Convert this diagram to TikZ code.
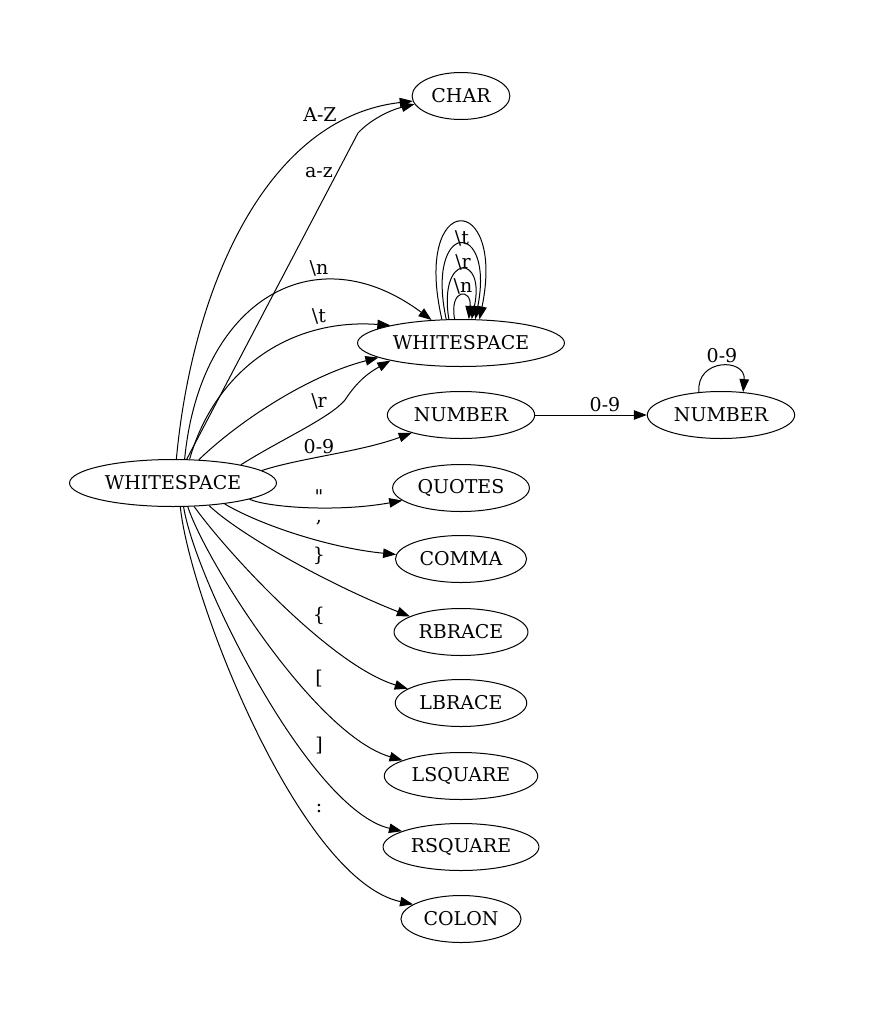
\documentclass[tikz,border=0pt]{standalone}
\usepackage{fontspec}
\setmainfont{DejaVu Serif}[Ligatures=TeXOff]
\usetikzlibrary{arrows.meta,shapes.geometric}

\begin{document}
\begin{tikzpicture}[x=1pt, y=-1pt,
  lexstate/.style={ellipse, draw, line width=1pt, inner xsep=5pt, inner ysep=4pt, minimum height=47pt, font=\fontsize{19}{22}\selectfont},
  trans/.style={-{Triangle[length=13pt, width=9.5pt]}, line width=1pt},
  lbl/.style={font=\fontsize{19}{22}\selectfont, inner sep=0pt}
]
  \useasboundingbox (0,0) rectangle (868,1017);

  % token states
  \node[lexstate] (ws) at (173,483) {WHITESPACE};
  \node[lexstate] (char) at (461,96) {CHAR};
  \node[lexstate] (wsb) at (461,343) {WHITESPACE};
  \node[lexstate] (num) at (461,415) {NUMBER};
  \node[lexstate] (numb) at (721,415) {NUMBER};
  \node[lexstate] (quotes) at (461,488) {QUOTES};
  \node[lexstate] (comma) at (461,559) {COMMA};
  \node[lexstate] (rbrace) at (461,632) {RBRACE};
  \node[lexstate] (lbrace) at (461,703) {LBRACE};
  \node[lexstate] (lsquare) at (461,776) {LSQUARE};
  \node[lexstate] (rsquare) at (461,847) {RSQUARE};
  \node[lexstate] (colon) at (461,919) {COLON};

  % transitions out of the first state
  \draw[trans] (ws.82) .. controls (192,290) and (265,118) .. (char.186);
  \draw[trans] (ws.60) -- (358,133) .. controls (370,120) and (390,110) .. (char.190);
  \draw[trans] (ws.64) .. controls (200,300) and (315,233) .. (wsb.142);
  \draw[trans] (ws.55) .. controls (215,370) and (290,318) .. (wsb.166);
  \draw[trans] (ws.42) .. controls (240,420) and (310,375) .. (wsb.190);
  \draw[trans] (ws.15) .. controls (280,440) and (330,418) .. (345,400) .. controls (358,380) and (370,372) .. (wsb.194);
  \draw[trans] (ws.8) .. controls (300,458) and (360,452) .. (num.200);
  \draw[trans] (ws.348) .. controls (270,508) and (340,512) .. (quotes.192);
  \draw[trans] (ws.338) .. controls (260,525) and (330,548) .. (comma.176);
  \draw[trans] (ws.328) .. controls (240,535) and (330,585) .. (rbrace.163);
  \draw[trans] (ws.312) .. controls (225,550) and (330,665) .. (lbrace.165);
  \draw[trans] (ws.302) .. controls (205,560) and (315,735) .. (lsquare.165);
  \draw[trans] (ws.294) .. controls (195,580) and (310,810) .. (rsquare.165);
  \draw[trans] (ws.287) .. controls (190,600) and (300,880) .. (colon.163);

  % self loops
  \draw[trans] (wsb.129) .. controls (412,190) and (506,190) .. (wsb.52);
  \draw[trans] (wsb.122) .. controls (425,219) and (495,219) .. (wsb.59);
  \draw[trans] (wsb.117) .. controls (438,253) and (486,253) .. (wsb.66);
  \draw[trans] (wsb.105) .. controls (449,288) and (472,288) .. (wsb.72);
  \draw[trans] (num) -- (numb);
  \draw[trans] (numb.134) .. controls (696,358) and (746,358) .. (numb.46);

  % labels
  \node[lbl] (lAZ) at (320,115) {A-Z};
  \node[lbl] (laz) at (319,173) {a-z};
  \node[lbl] (lnl) at (319,268) {\textbackslash n};
  \node[lbl] (ltab) at (319,316) {\textbackslash t};
  \node[lbl] (lcr) at (319,401) {\textbackslash r};
  \node[lbl] (ldig) at (319,447) {0-9};
  \node[lbl] (lquote) at (319,497) {"};
  \node[lbl] (lcomma) at (319,523) {,};
  \node[lbl] (lrbrace) at (319,556) {\}};
  \node[lbl] (llbrace) at (319,616) {\{};
  \node[lbl] (llsq) at (319,679) {[};
  \node[lbl] (lrsq) at (319,746) {]};
  \node[lbl] (lcolon) at (319,808) {:};
  \node[lbl] (lnum) at (605,405) {0-9};
  \node[lbl] (lnumloop) at (722,356) {0-9};
  \node[lbl] (ltabloop) at (462,238) {\textbackslash t};
  \node[lbl] (lcrloop) at (463,262) {\textbackslash r};
  \node[lbl] (lnlloop) at (463,286) {\textbackslash n};
\end{tikzpicture}
\end{document}
